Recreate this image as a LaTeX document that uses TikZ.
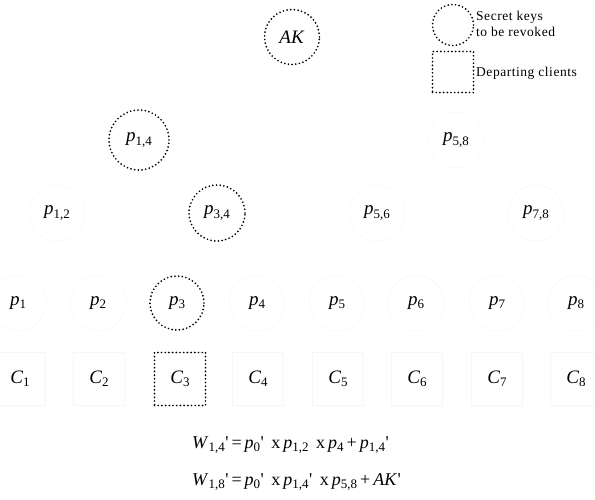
\documentclass[tikz,border=0pt]{standalone}
\usepackage{fontspec}
\setmainfont{Liberation Serif}
% subscript used in key and client labels
\newcommand{\sbs}[1]{\raisebox{-0.35ex}{\fontsize{13}{13}\selectfont #1}}
\newcommand{\keyp}[1]{\textit{p}\sbs{#1}}
\newcommand{\cli}[1]{\textit{C}\sbs{#1}}
\newcommand{\prm}{\kern0.5pt\textquotesingle}
\begin{document}
\begin{tikzpicture}[x=1pt,y=-1pt,
  keynode/.style={circle, minimum size=56pt, inner sep=0pt, draw=gray!6,
    line width=0.6pt, font=\fontsize{19}{19}\selectfont},
  clientnode/.style={rectangle, minimum width=51pt, minimum height=53pt,
    inner sep=0pt, draw=gray!7, line width=0.6pt, font=\fontsize{19}{19}\selectfont},
  revoked/.style={draw=black, line width=1.9pt, dash pattern=on 0pt off 3.7pt,
    line cap=round},
  legendtext/.style={anchor=west, inner sep=0pt,
    font=\fontsize{13.5}{16}\selectfont\addfontfeature{LetterSpace=4}},
  eqtext/.style={anchor=west, inner sep=0pt, font=\fontsize{18}{18}\selectfont}]
\useasboundingbox (0,0) rectangle (595,500);

% root
\node[keynode, revoked, minimum size=55pt] (ak) at (292,37) {\textit{AK}};

% legend
\node[circle, minimum size=41pt, inner sep=0pt, revoked] (lgkey) at (453,25) {};
\node[rectangle, minimum width=41pt, minimum height=41pt, inner sep=0pt, revoked] (lgcli) at (453,72) {};
\node[legendtext, align=left] (lgkeytext) at (476,24) {Secret keys\\to be revoked};
\node[legendtext] (lgclitext) at (476,73) {Departing clients};

% second level
\node[keynode, revoked, minimum size=60pt] (p14) at (139,140) {\keyp{1,4}};
\node[keynode] (p58) at (456,140) {\keyp{5,8}};

% third level
\node[keynode] (p12) at (57,213) {\keyp{1,2}};
\node[keynode, revoked] (p34) at (217,213) {\keyp{3,4}};
\node[keynode] (p56) at (377,213) {\keyp{5,6}};
\node[keynode] (p78) at (536,213) {\keyp{7,8}};

% leaf keys
\foreach \i/\x in {1/18,2/98,3/177,4/257,5/337,6/416,7/497,8/576}
  \node[keynode] (p\i) at (\x,303) {\keyp{\i}};
\node[keynode, revoked, minimum size=54pt] at (p3) {};

% clients
\foreach \i/\x in {1/20,2/99,3/180,4/258,5/338,6/417,7/497,8/576}
  \node[clientnode] (c\i) at (\x,379) {\cli{\i}};
\node[clientnode, revoked] at (c3) {};

% rekeying equations
\node[eqtext] (eqa) at (192,445)
  {\textit{W}\sbs{1,4}\prm\,=\,\textit{p}\sbs{0}\prm\, x\,\textit{p}\sbs{1,2}\, x\,\textit{p}\sbs{4}\,+\,\textit{p}\sbs{1,4}\prm};
\node[eqtext] (eqb) at (192,482)
  {\textit{W}\sbs{1,8}\prm\,=\,\textit{p}\sbs{0}\prm\, x\,\textit{p}\sbs{1,4}\prm\, x\,\textit{p}\sbs{5,8}\,+\,\textit{AK}\prm};
\end{tikzpicture}
\end{document}
